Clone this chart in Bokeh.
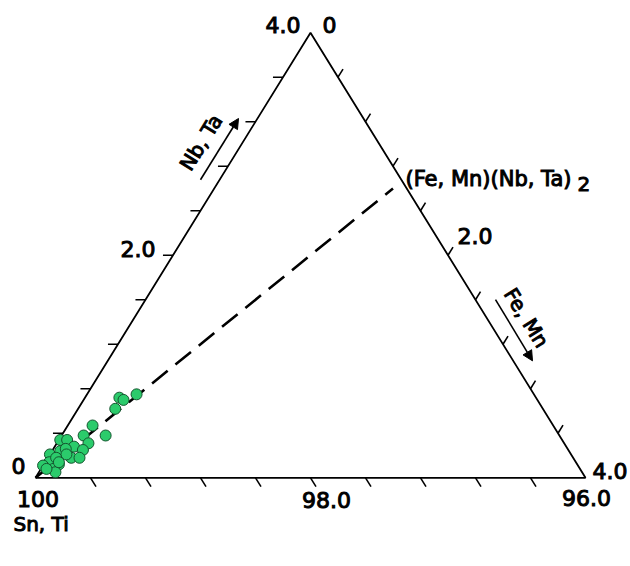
import math
from bokeh.plotting import figure
from bokeh.models import Range1d, Arrow, NormalHead
from bokeh.embed import file_html
from bokeh.resources import INLINE
from bokeh.core.properties import value

# ---- data (ternary, in % of Nb,Ta and Fe,Mn; Sn,Ti = 100 - both) ----
nbta = [0.75, 0.72, 0.70, 0.62, 0.47, 0.38, 0.38, 0.31, 0.34, 0.34,
        0.28, 0.25, 0.24, 0.26, 0.21, 0.18, 0.18, 0.14, 0.11, 0.12,
        0.08, 0.05, 0.21, 0.08, 0.18, 0.14]
femn = [0.36, 0.25, 0.29, 0.27, 0.18, 0.32, 0.16, 0.23, 0.01, 0.06,
        0.14, 0.22, 0.06, 0.09, 0.00, 0.17, 0.23, 0.03, 0.00, 0.11,
        0.09, 0.12, 0.12, 0.04, 0.06, 0.10]

tie_nbta = [0.0, 2.6]
tie_femn = [0.0, 1.3]

tick_steps = [0.4, 0.8, 1.2, 1.6, 2.0, 2.4, 2.8, 3.2, 3.6]
edge_values = [0.0, 2.0, 4.0]
left_labels = ["0", "2.0", "4.0"]        # Nb, Ta
right_labels = ["0", "2.0", "4.0"]       # Fe, Mn
bottom_labels = ["100", "98.0", "96.0"]  # Sn, Ti

# ---- geometry ----
R3 = math.sqrt(3) / 2
ZX, ZY = 137.5, 136.25      # layout-sketch pixel scale (data unit -> px)
SX, SY = 137.5, 128.5       # on-screen scale (data unit -> px)
X0, Y0 = 35.0, 477.3        # screen position of the Sn,Ti corner
W, H = 630, 566


def tern(a, b):
    return b + a / 2.0, a * R3


def off(x, y, dx, dy):
    # dx, dy in sketch pixels (dy downward)
    return x + dx / ZX, y - dy / ZY


def page(px, py):
    # sketch pixel position -> data
    return (px - 35) / ZX, (506 - py) / ZY


FONT = value("DejaVu Sans")
TXT = dict(text_font=FONT, text_color="black", text_outline_color="black",
           text_baseline="middle")

p = figure(width=W, height=H, output_backend="svg", toolbar_location=None,
           x_range=Range1d(-X0 / SX, (W - X0) / SX),
           y_range=Range1d((Y0 - H) / SY, Y0 / SY),
           x_axis_location=None, y_axis_location=None, min_border=0)
p.grid.visible = False
p.outline_line_color = None
p.background_fill_color = "white"
p.border_fill_color = "white"

# triangle
vx, vy = zip(*[tern(0, 0), tern(0, 4), tern(4, 0), tern(0, 0)])
p.line(list(vx), list(vy), line_color="black", line_width=1.8)

# ticks (directions follow the other edges)
x0s, y0s, x1s, y1s = [], [], [], []
for t in tick_steps:
    x, y = tern(0, t)                         # bottom edge, down-right
    x0s += [x]; y0s += [y]; x1s += [x + 0.5 * 0.08]; y1s += [y - R3 * 0.08]
    x, y = tern(t, 0)                         # left edge, to the left
    x0s += [x]; y0s += [y]; x1s += [x - 0.073]; y1s += [y]
    x, y = tern(t, 4 - t)                     # right edge, up-right
    x0s += [x]; y0s += [y]; x1s += [x + 0.5 * 0.073]; y1s += [y + R3 * 0.073]
p.segment(x0s, y0s, x1s, y1s, line_color="black", line_width=1.6)

# tie line
tx, ty = zip(*[tern(a, b) for a, b in zip(tie_nbta, tie_femn)])
p.line(list(tx), list(ty), line_color="black", line_width=2.6, line_dash="20 10")

# points
px_, py_ = zip(*[tern(a, b) for a, b in zip(nbta, femn)])
p.scatter(list(px_), list(py_), size=11, fill_color="#2bcb6b",
          line_color="#15552f", line_width=1)

# tick labels (offsets give the label's visual centre line)
NUM_SIZE = "22px"
left_off = [(-10, -12.5), (-17.5, -6.5), (-10, -8.5)]
for v, lab, (dx, dy) in zip(edge_values, left_labels, left_off):
    x, y = off(*tern(v, 0), dx, dy)
    p.text([x], [y], text=[lab], text_align="right", text_font_size=NUM_SIZE, **TXT)

right_off = [(12, -8.5), (9.5, -20.5), (7, -7.5)]
for v, lab, (dx, dy) in zip(edge_values, right_labels, right_off):
    x, y = off(*tern(4 - v, v), dx, dy)
    p.text([x], [y], text=[lab], text_align="left", text_font_size=NUM_SIZE, **TXT)

bottom_off = [(2.5, 22.5), (16, 23.5), (1, 21.5)]
for v, lab, (dx, dy) in zip(edge_values, bottom_labels, bottom_off):
    x, y = off(*tern(0, v), dx, dy)
    p.text([x], [y], text=[lab], text_align="center", text_font_size=NUM_SIZE, **TXT)

# component labels
x, y = page(13, 554.5)
p.text([x], [y], text=["Sn, Ti"], text_align="left", text_font_size="20px", **TXT)

ang = math.atan2(2 * R3 * SY, 1 * SX)   # on-screen slope of the left edge
x, y = page(200.5, 150.5)
p.text([x], [y], text=["Nb, Ta"], angle=ang, text_align="center",
       text_font_size="20px", **TXT)
x, y = page(526, 336.5)
p.text([x], [y], text=["Fe, Mn"], angle=-ang, text_align="center",
       text_font_size="20px", **TXT)

x, y = page(405, 189)
p.text([x], [y], text=["(Fe, Mn)(Nb, Ta)"], text_align="left",
       text_font_size="21px", **TXT)
x, y = page(577, 195)
p.text([x], [y], text=["2"], text_align="left", text_font_size="20px", **TXT)

# arrows
ax0, ay0 = page(200, 190)
ax1, ay1 = page(238, 125)
p.add_layout(Arrow(end=NormalHead(size=10, fill_color="black", line_color="black"),
                   x_start=ax0, y_start=ay0, x_end=ax1, y_end=ay1,
                   line_width=1.6, line_color="black"))
bx0, by0 = page(495, 317)
bx1, by1 = page(532, 382)
p.add_layout(Arrow(end=NormalHead(size=10, fill_color="black", line_color="black"),
                   x_start=bx0, y_start=by0, x_end=bx1, y_end=by1,
                   line_width=1.6, line_color="black"))

open("out.html", "w").write(file_html(p, INLINE))
